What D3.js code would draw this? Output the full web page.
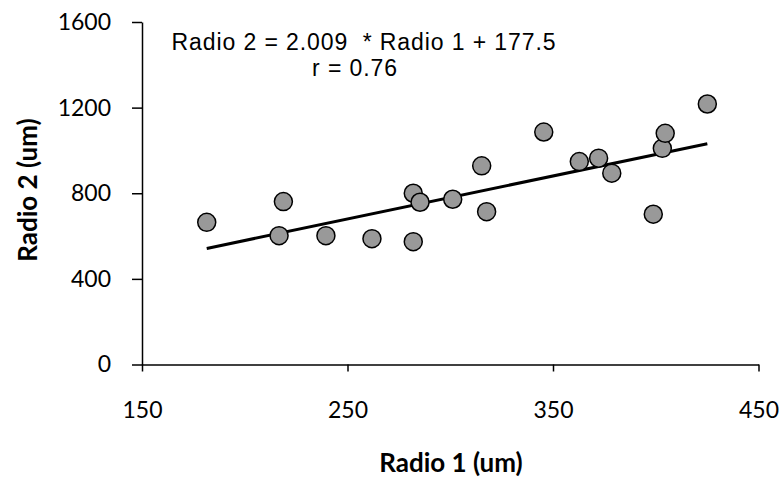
<!DOCTYPE html>
<html><head><meta charset="utf-8">
<script src="https://cdn.jsdelivr.net/npm/d3@7"></script>
<style>body{margin:0;background:#fff}svg{display:block}</style>
</head><body>
<svg id="c" width="782" height="479"></svg>
<script>
const radio1 = [181.5, 216.7, 218.8, 239.5, 261.9, 282.0, 282.0, 285.3, 301.2, 315.3, 317.7, 345.5, 362.8, 372.2, 378.6, 398.8, 403.2, 404.6, 425.1];
const radio2 = [664, 602, 761, 602, 588, 574, 800, 758, 772, 928, 714, 1086, 948, 964, 894, 702, 1010, 1080, 1217];
const slope = 2.009, intercept = 177.5;
const xTicks = [150, 250, 350, 450];
const yTicks = [0, 400, 800, 1200, 1600];
const eqLine1 = "Radio 2 = 2.009  * Radio 1 + 177.5";
const eqLine2 = "r = 0.76";
const xTitle = "Radio 1 (um)", yTitle = "Radio 2 (um)";

const svg = d3.select("#c");
const x = d3.scaleLinear().domain([150, 450]).range([142, 758.5]);
const y = d3.scaleLinear().domain([0, 1600]).range([364.5, 22]);
const tickFont = "Lato, 'Open Sans', sans-serif";

const xa = svg.append("g").attr("transform", `translate(0,${y(0)})`)
  .call(d3.axisBottom(x).tickValues(xTicks).tickFormat(d3.format("d")).tickSize(7).tickSizeOuter(0).tickPadding(30));
const ya = svg.append("g").attr("transform", `translate(${x(150)},0)`)
  .call(d3.axisLeft(y).tickValues(yTicks).tickFormat(d3.format("d")).tickSize(10).tickSizeOuter(0).tickPadding(21));
[xa, ya].forEach(a => {
  a.select(".domain").attr("stroke", "#000").attr("stroke-width", 1.5);
  a.selectAll(".tick line").attr("stroke", "#000").attr("stroke-width", 1.5);
  a.selectAll(".tick text").attr("fill", "#000").style("font-family", tickFont).style("font-size", "23px");
});

// regression line
const xr = d3.extent(radio1);
svg.append("line")
  .attr("x1", x(xr[0])).attr("y1", y(slope * xr[0] + intercept))
  .attr("x2", x(xr[1])).attr("y2", y(slope * xr[1] + intercept))
  .attr("stroke", "#000").attr("stroke-width", 3);

svg.append("g").selectAll("circle").data(radio1.map((d, i) => [d, radio2[i]]))
  .join("circle")
  .attr("cx", d => x(d[0])).attr("cy", d => y(d[1])).attr("r", 9)
  .attr("fill", "#999999").attr("stroke", "#000").attr("stroke-width", 1.5);

svg.append("text").attr("x", 364).attr("y", 50).attr("text-anchor", "middle")
  .style("font-family", "'Liberation Sans', Arial, sans-serif").style("font-size", "23px")
  .style("letter-spacing", "0.9px").style("white-space", "pre").text(eqLine1);
svg.append("text").attr("x", 355).attr("y", 76).attr("text-anchor", "middle")
  .style("font-family", "'Liberation Sans', Arial, sans-serif").style("font-size", "23px")
  .style("letter-spacing", "0.9px").text(eqLine2);

svg.append("text").attr("x", 451).attr("y", 472).attr("text-anchor", "middle")
  .style("font-family", tickFont).style("font-weight", "bold").style("font-size", "26px")
  .text(xTitle);
svg.append("text").attr("transform", "translate(37,190) rotate(-90)").attr("text-anchor", "middle")
  .style("font-family", tickFont).style("font-weight", "bold").style("font-size", "26px")
  .text(yTitle);
</script>
</body></html>
